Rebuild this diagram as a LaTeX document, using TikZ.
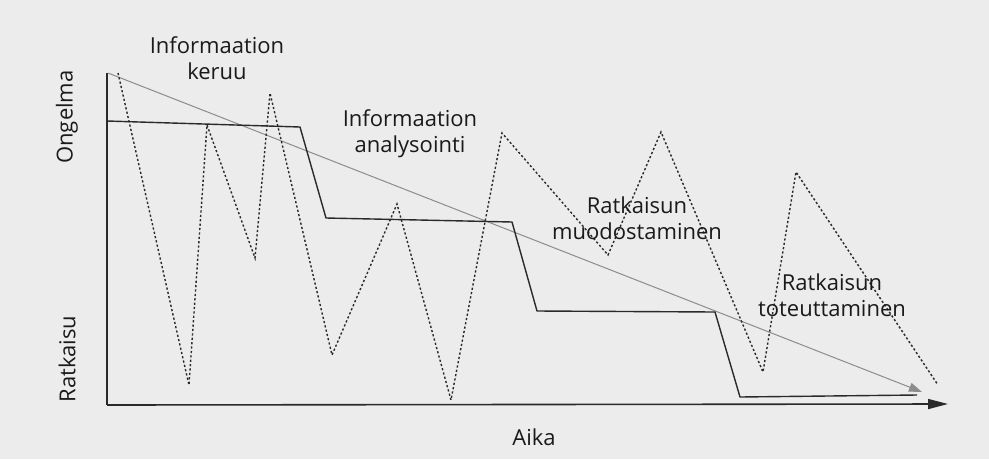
\documentclass[tikz,border=0pt]{standalone}
\usepackage{fontspec}
\setmainfont{Open Sans}
\usetikzlibrary{arrows.meta}
\definecolor{paper}{HTML}{ECECEC}
\definecolor{ink}{HTML}{2A2A2A}
\definecolor{textink}{HTML}{1A1A1A}
\definecolor{greyline}{HTML}{8C8C8C}
\tikzset{
  axis/.style={draw=ink, line width=1.6pt},
  stepline/.style={draw=ink, line width=1.4pt, line join=round},
  zigzag/.style={draw=ink, line width=1.4pt, dash pattern=on 2.2pt off 2.2pt},
  trend/.style={draw=greyline, line width=1pt, -{Triangle[length=13pt,width=9pt]}},
  label/.style={font=\fontsize{22}{26}\selectfont, text=textink, align=center, inner sep=0pt},
}
\begin{document}
\begin{tikzpicture}[x=1pt,y=-1pt]
\fill[paper] (0,0) rectangle (989,459);
\useasboundingbox (0,0) rectangle (989,459);
% axes
\coordinate (ytop) at (107,73);
\coordinate (origin) at (107,405);
\coordinate (xend) at (948,404);
\draw[axis] (ytop) -- (origin);
\draw[axis, -{Triangle[length=20pt,width=10pt]}] (origin) -- (xend);
% trend arrow
\coordinate (t0) at (108,73);
\coordinate (t1) at (922,392);
\draw[trend] (t0) -- (t1);
% step line
\coordinate (s0) at (107,121);
\coordinate (s1) at (300,127);
\coordinate (s2) at (326,218);
\coordinate (s3) at (512,222);
\coordinate (s4) at (537,311);
\coordinate (s5) at (715,312);
\coordinate (s6) at (740,397);
\coordinate (s7) at (917,395);
\draw[stepline] (s0) -- (s1) -- (s2) -- (s3) -- (s4) -- (s5) -- (s6) -- (s7);
% dotted zigzag
\coordinate (z0) at (118,73);
\coordinate (z1) at (189,385);
\coordinate (z2) at (207,125);
\coordinate (z3) at (255,258);
\coordinate (z4) at (270,93);
\coordinate (z5) at (332,355);
\coordinate (z6) at (397,204);
\coordinate (z7) at (451,400);
\coordinate (z8) at (502,133);
\coordinate (z9) at (608,255);
\coordinate (z10) at (661,132);
\coordinate (z11) at (763,372);
\coordinate (z12) at (796,172);
\coordinate (z13) at (938,385);
\draw[zigzag] (z0) -- (z1) -- (z2) -- (z3) -- (z4) -- (z5) -- (z6) -- (z7) -- (z8) -- (z9) -- (z10) -- (z11) -- (z12) -- (z13);
% labels
\node[label] (l1) at (217,58) {Informaation\\keruu};
\node[label] (l2) at (410,134) {Informaation\\analysointi};
\node[label] (l3) at (637,218) {Ratkaisun\\muodostaminen};
\node[label] (l4) at (832,295) {Ratkaisun\\toteuttaminen};
\node[label, rotate=90] (yl1) at (67,117) {Ongelma};
\node[label, rotate=90] (yl2) at (67,359) {Ratkaisu};
\node[label] (xl) at (534,437) {Aika};
\end{tikzpicture}
\end{document}
